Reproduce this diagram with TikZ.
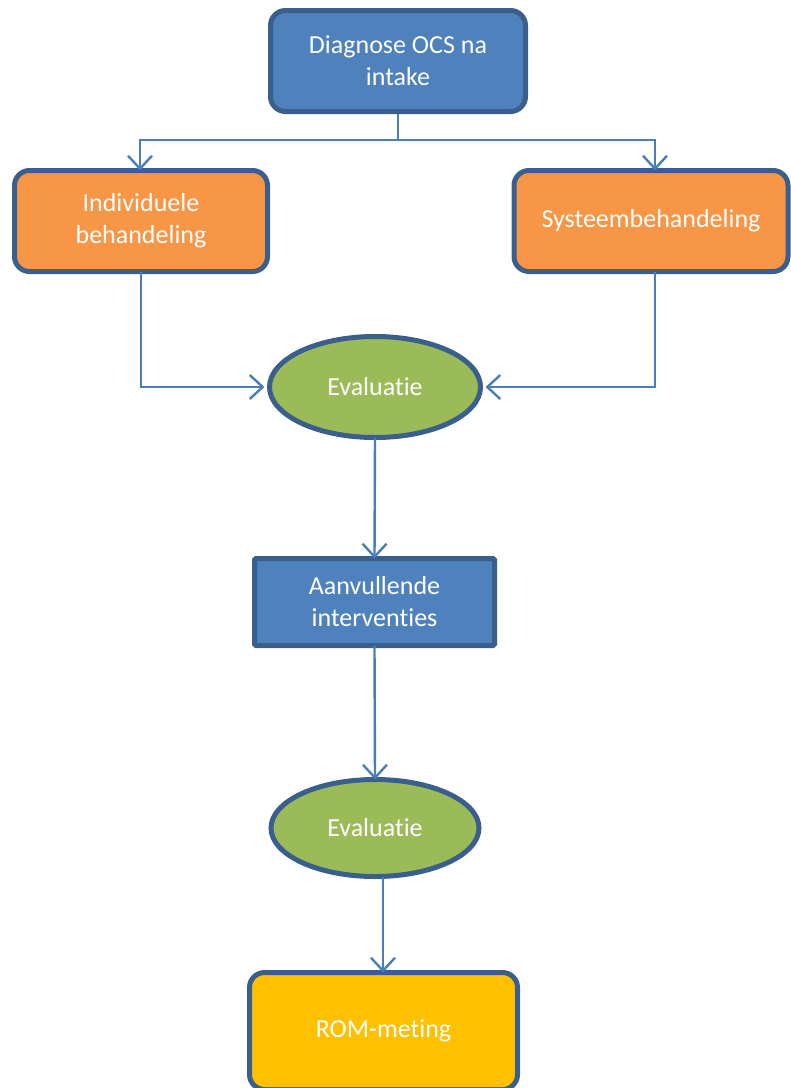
\documentclass[tikz,border=0pt]{standalone}
\usepackage{fontspec}
\setmainfont[Ligatures=NoCommon]{Carlito}
\usetikzlibrary{arrows.meta,shapes.geometric}
\definecolor{bordr}{HTML}{3A5F8C}
\definecolor{blu}{HTML}{4F81BD}
\definecolor{orng}{HTML}{F79646}
\definecolor{grn}{HTML}{9BBB59}
\definecolor{ylw}{HTML}{FFC000}
\definecolor{conn}{HTML}{4A7EBB}
\tikzset{
  base/.style={draw=bordr, line width=5pt, text=white, align=center,
    font=\fontsize{26}{32}\selectfont, inner sep=0pt},
  rbox/.style={base, rectangle, rounded corners=15pt},
  sbox/.style={base, rectangle, rounded corners=1.5pt},
  ell/.style={base, ellipse},
  link/.style={draw=conn, line width=2.4pt,
    -{Straight Barb[length=13pt,width=24pt,line width=2.4pt]}},
}
\begin{document}
\begin{tikzpicture}[x=1pt,y=-1pt]
\useasboundingbox (0,0) rectangle (791,1088);
\begin{scope}
\clip (0,0) rectangle (791,1088);
\node[rbox, fill=blu, minimum width=255pt, minimum height=101pt] (top) at (398,61) {Diagnose OCS na\\intake};
\node[rbox, fill=orng, minimum width=253pt, minimum height=101pt] (left) at (141,221) {Individuele\\behandeling};
\node[rbox, fill=orng, minimum width=274pt, minimum height=101pt] (right) at (651,221) {Systeembehandeling};
\node[ell, fill=grn, minimum width=211pt, minimum height=101pt] (ev1) at (375,387) {Evaluatie};
\node[sbox, fill=blu, minimum width=240pt, minimum height=87pt] (ra) at (374.5,602) {Aanvullende\\interventies};
\node[ell, fill=grn, minimum width=208pt, minimum height=97pt] (ev2) at (375,828) {Evaluatie};
\node[rbox, fill=ylw, minimum width=268pt, minimum height=117pt] (rom) at (383.5,1031) {ROM-meting};
\coordinate (split) at (398,140);
\draw[link] (top.south) -- (split) -| ([xshift=-1pt,yshift=-2.5pt]left.north);
\draw[link] (split) -| ([xshift=4pt,yshift=-2.5pt]right.north);
\draw[link] ([yshift=2.5pt]left.south) |- ([xshift=-2.5pt]ev1.west);
\draw[link] ([xshift=4pt,yshift=2.5pt]right.south) |- ([xshift=2.5pt]ev1.east);
\draw[link] ([yshift=2.5pt]ev1.south) -- ([yshift=-2.5pt]ra.north);
\draw[link] ([yshift=2.5pt]ra.south) -- ([yshift=-2.5pt]ev2.north);
\coordinate (ev2b) at ([xshift=8pt,yshift=2.5pt]ev2.south);
\coordinate (romtop) at ([yshift=-2.5pt]ev2b |- rom.north);
\draw[link] (ev2b) -- (romtop);
\end{scope}
\end{tikzpicture}
\end{document}
